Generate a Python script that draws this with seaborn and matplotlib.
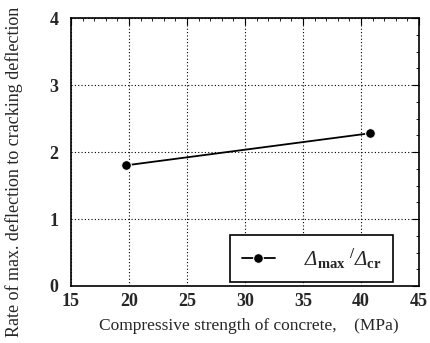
import matplotlib
matplotlib.use("Agg")
import matplotlib.pyplot as plt
import seaborn as sns
import pandas as pd
from matplotlib.ticker import MultipleLocator

strength = [19.7, 40.8]
ratio = [1.80, 2.28]
xticks = [15, 20, 25, 30, 35, 40, 45]
yticks = [0, 1, 2, 3, 4]

sns.set_style("white")
plt.rcParams['font.family'] = ['Liberation Serif', 'DejaVu Serif']
plt.rcParams['mathtext.fontset'] = 'custom'
plt.rcParams['mathtext.rm'] = 'Liberation Serif:italic'
plt.rcParams['mathtext.bf'] = 'Liberation Serif:bold'
plt.rcParams['mathtext.it'] = 'Liberation Serif:italic'

df = pd.DataFrame({"x": strength, "y": ratio})
fig = plt.figure(figsize=(4.3, 3.43), dpi=100)
ax = fig.add_axes([71/430, 1 - 286/343, 348/430, 268/343])
sns.lineplot(data=df, x="x", y="y", ax=ax, color="black", marker="o",
             markersize=7, linewidth=1.3,
             label=r'$Δ_{\mathbf{max}}\ ^{\mathbf{/}}Δ_{\mathbf{cr}}$')
ax.set_xlim(15, 45)
ax.set_ylim(0, 4)
ax.set_xticks(xticks)
ax.set_yticks(yticks)
ax.xaxis.set_minor_locator(MultipleLocator(1))
ax.yaxis.set_minor_locator(MultipleLocator(0.25))
ax.tick_params(which='both', direction='in', top=True, right=True, color='black')
ax.tick_params(which='major', length=5, labelsize=13)
ax.tick_params(axis='y', which='major', pad=9)
ax.tick_params(axis='x', which='major', pad=5)
ax.tick_params(which='minor', length=2.5)
for lab in ax.get_xticklabels() + ax.get_yticklabels():
    lab.set_fontweight('bold')
ax.grid(True, which='major', linestyle=(0, (1, 2)), color='black', linewidth=0.8)
for s in ax.spines.values():
    s.set_color('black')
    s.set_linewidth(1.2)
ax.set_xlabel("")
ax.set_ylabel("")
fig.text(249/430, 1 - 326/343, "Compressive strength of concrete,    (MPa)",
         fontsize=12.5, ha='center', va='center')
fig.text(14/430, 1 - 172/343, "Rate of max. deflection to cracking deflection",
         fontsize=13, ha='center', va='center', rotation=90)
leg = ax.legend(loc='lower right', bbox_to_anchor=(0.925, 0.015), borderaxespad=0,
                fontsize=15, frameon=True, fancybox=False, edgecolor='black',
                handlelength=1.6, borderpad=0.55, handletextpad=1.4, framealpha=1)
leg.get_frame().set_linewidth(1.2)
fig.savefig("out.png", dpi=100)
